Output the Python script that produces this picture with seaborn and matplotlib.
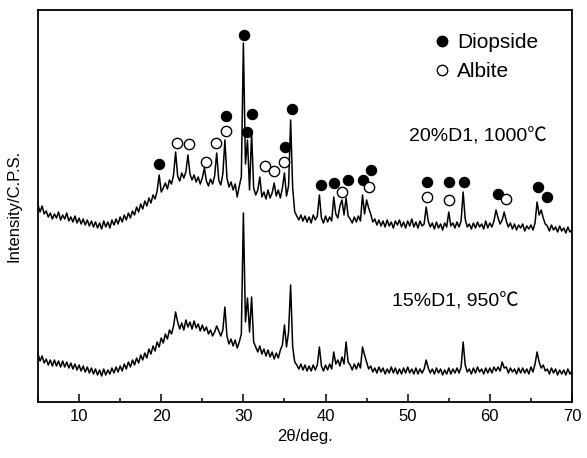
import numpy as np
import pandas as pd
import matplotlib
matplotlib.use("Agg")
import matplotlib.pyplot as plt
from matplotlib.lines import Line2D
from matplotlib.ticker import MultipleLocator
import seaborn as sns

# ---------------- data ----------------
two_theta_start, two_theta_stop, two_theta_step = 5.0, 70.0, 0.25

# 20%D1, 1000 C  (values on a 0.25 deg grid, 5..70)
top_intensity = [
    197, 190, 196, 188,  191, 185, 189, 183,  188, 184, 190, 182,  187, 183, 189, 181,
    185, 180, 186, 179,  184, 178, 183, 177,  182, 176, 181, 175,  180, 174, 179, 173,
    181, 175, 180, 174,  182, 177, 183, 178,  185, 180, 187, 182,  189, 184, 191, 187,
    195, 190, 198, 193,  201, 196, 204, 199,  207, 203, 211, 227,  210, 214, 219, 213,
    222, 218, 227, 250,  226, 221, 229, 224,  230, 247, 228, 222,  227, 220, 225, 218,
    224, 234, 221, 216,  223, 218, 226, 249,  222, 217, 228, 262,  224, 215, 220, 212,
    218, 205, 216, 225,  359, 238, 262, 212,  269, 214, 207, 212,  225, 205, 210, 203,
    212, 204, 209, 219,  206, 212, 204, 214,  229, 206, 216, 282,  214, 190, 186, 182,
    187, 181, 186, 180,  185, 179, 187, 182,  186, 207, 184, 179,  186, 180, 185, 181,
    205, 188, 184, 196,  202, 187, 204, 186,  183, 179, 185, 180,  186, 181, 207, 188,
    202, 194, 188, 180,  183, 177, 182, 176,  181, 175, 182, 176,  180, 174, 181, 177,
    182, 175, 180, 174,  181, 176, 183, 175,  180, 174, 181, 176,  178, 195, 181, 175,
    179, 173, 180, 174,  178, 172, 179, 175,  190, 176, 179, 174,  180, 175, 181, 210,
    183, 175, 178, 173,  179, 174, 180, 175,  178, 173, 181, 174,  179, 175, 181, 192,
    184, 178, 182, 190,  181, 175, 179, 173,  178, 172, 177, 174,  178, 171, 176, 173,
    177, 172, 179, 200,  187, 192, 184, 178,  176, 171, 177, 172,  175, 170, 176, 171,
    174, 169, 175, 170,  172,
]

# 15%D1, 950 C
bottom_intensity = [
    48, 41, 46, 39,  43, 37, 42, 36,  42, 36, 41, 35,  41, 35, 40, 34,
    39, 33, 38, 32,  37, 31, 36, 30,  35, 29, 34, 28,  33, 27, 32, 26,
    33, 27, 32, 28,  34, 29, 35, 30,  36, 31, 38, 33,  40, 35, 42, 37,
    44, 39, 47, 42,  49, 44, 53, 48,  56, 51, 60, 55,  64, 59, 68, 63,
    72, 68, 76, 90,  80, 73, 79, 72,  82, 75, 80, 73,  81, 74, 78, 71,
    77, 71, 75, 68,  72, 66, 70, 76,  71, 66, 72, 95,  66, 58, 63, 56,
    62, 54, 60, 68,  189, 80, 104, 70,  105, 60, 55, 50,  56, 48, 53, 46,
    52, 45, 50, 43,  49, 44, 52, 57,  77, 55, 70, 117,  55, 40, 37, 33,
    38, 32, 37, 31,  36, 31, 37, 32,  37, 55, 36, 31,  37, 32, 38, 33,
    50, 38, 42, 36,  45, 38, 60, 40,  37, 32, 38, 33,  39, 34, 55, 47,
    40, 33, 36, 30,  34, 29, 35, 30,  34, 28, 33, 29,  35, 29, 34, 28,
    33, 28, 34, 29,  35, 29, 33, 28,  34, 28, 33, 29,  33, 42, 34, 29,
    33, 28, 34, 29,  33, 27, 32, 28,  34, 28, 33, 29,  34, 29, 35, 60,
    37, 30, 33, 28,  34, 29, 35, 30,  33, 28, 34, 29,  34, 29, 35, 31,
    35, 31, 40, 34,  35, 29, 34, 30,  33, 28, 34, 29,  34, 29, 33, 28,
    35, 30, 38, 50,  40, 34, 37, 31,  33, 28, 34, 29,  33, 27, 32, 28,
    32, 27, 33, 28,  31,
]

# phase markers
diopside_2theta = [19.77, 27.85, 30.12, 30.40, 31.00, 35.10, 35.88, 39.41, 41.03, 42.70,
                   44.52, 45.53, 52.35, 55.07, 56.86, 60.96, 65.83, 66.92]
diopside_int = [238, 286, 367, 270, 288, 255, 293, 217, 219, 222,
                222, 232, 220, 220, 220, 208, 215, 205]
albite_2theta = [21.92, 23.42, 25.45, 26.67, 27.85, 32.67, 33.77, 34.95, 41.96, 45.33,
                 52.35, 55.00, 61.93]
albite_int = [259, 258, 240, 259, 271, 236, 231, 240, 210, 215, 205, 202, 203]

series_labels = ["20%D1, 1000\u2103", "15%D1, 950\u2103"]
legend_labels = ["Diopside", "Albite"]

# ---------------- figure ----------------
sns.set_style("ticks")
plt.rcParams["font.family"] = ["Liberation Sans", "Noto Sans CJK SC", "DejaVu Sans"]
plt.rcParams["text.color"] = "black"
plt.rcParams["axes.labelcolor"] = "black"
plt.rcParams["xtick.color"] = "black"

W, H = 587, 458
fig = plt.figure(figsize=(W / 100, H / 100), dpi=100)
ax = fig.add_axes([38 / W, (H - 402) / H, 534 / W, 392 / H])

two_theta = np.arange(two_theta_start, two_theta_stop + 1e-9, two_theta_step)
df = pd.concat([
    pd.DataFrame({"2theta": two_theta, "I": top_intensity, "s": series_labels[0]}),
    pd.DataFrame({"2theta": two_theta, "I": bottom_intensity, "s": series_labels[1]}),
])
sns.lineplot(data=df, x="2theta", y="I", units="s", estimator=None, sort=False,
             color="black", linewidth=1.1, ax=ax, legend=False)

sns.scatterplot(x=diopside_2theta, y=diopside_int, ax=ax, s=55, color="black",
                edgecolor="black", linewidth=0.8, legend=False, zorder=3)
sns.scatterplot(x=albite_2theta, y=albite_int, ax=ax, s=55, facecolor="white",
                edgecolor="black", linewidth=1.0, legend=False, zorder=3)

ax.set_xlim(5, 70)
ax.set_ylim(0, 392)
ax.xaxis.set_major_locator(MultipleLocator(10))
ax.xaxis.set_minor_locator(MultipleLocator(5))
ax.set_yticks([])
ax.tick_params(axis="x", which="major", direction="in", length=6, width=1.1,
               labelsize=12, pad=5, colors="black")
ax.tick_params(axis="x", which="minor", direction="in", length=3, width=1.1)
for sp in ax.spines.values():
    sp.set_linewidth(1.3)
    sp.set_color("black")

ax.set_xlabel("2\u03b8/deg.", fontsize=12, labelpad=4)
ax.set_ylabel("Intensity/C.P.S.", fontsize=12, labelpad=12)

ax.text(58.5, 265, series_labels[0], fontsize=14, ha="center", va="center")
ax.text(55.8, 100, series_labels[1], fontsize=14, ha="center", va="center")

handles = [
    Line2D([], [], marker="o", linestyle="none", markersize=7.5,
           markerfacecolor="black", markeredgecolor="black"),
    Line2D([], [], marker="o", linestyle="none", markersize=7.5,
           markerfacecolor="white", markeredgecolor="black"),
]
ax.legend(handles, legend_labels, loc="upper left", bbox_to_anchor=(0.721, 0.962),
          frameon=False, fontsize=15, handletextpad=0.25, labelspacing=0.46,
          handlelength=1.0, borderaxespad=0)

fig.savefig("out.png", dpi=100)
